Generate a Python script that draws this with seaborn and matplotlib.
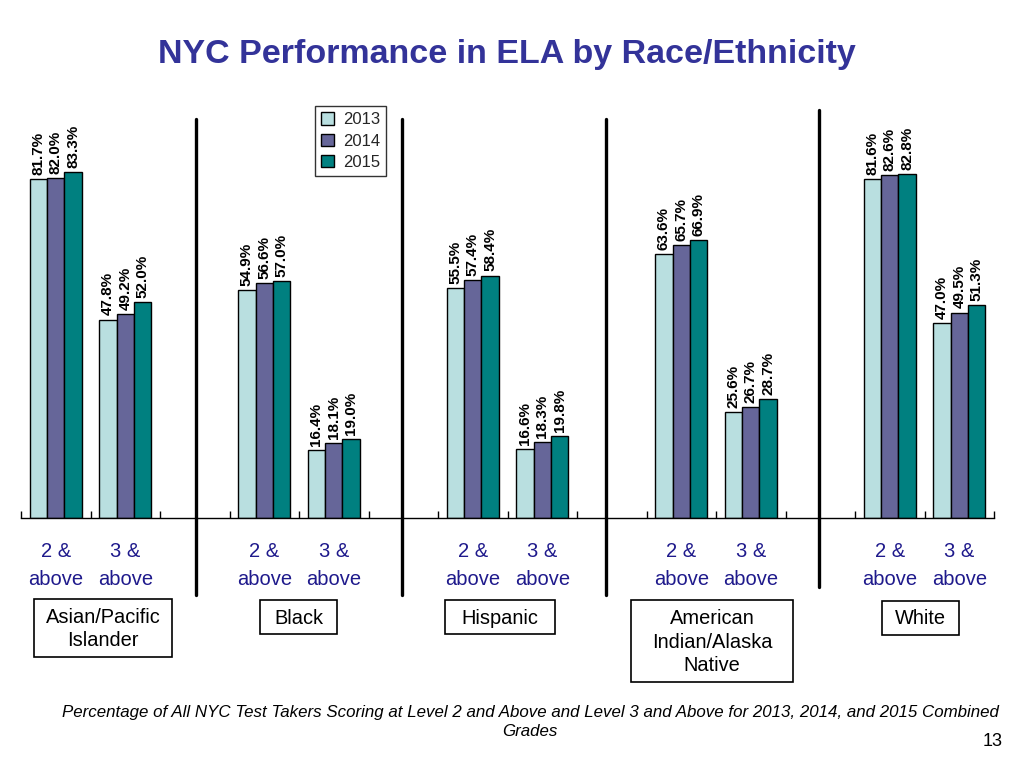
import matplotlib
matplotlib.use("Agg")
import matplotlib.pyplot as plt
from matplotlib.lines import Line2D
from matplotlib.patches import Rectangle
import seaborn as sns
import pandas as pd

# ---- data ----
races = ["Asian/Pacific\nIslander", "Black", "Hispanic", "American\nIndian/Alaska\nNative", "White"]
levels = ["2 &\nabove", "3 &\nabove"]
years = ["2013", "2014", "2015"]
vals_2013 = [81.7, 47.8, 54.9, 16.4, 55.5, 16.6, 63.6, 25.6, 81.6, 47.0]
vals_2014 = [82.0, 49.2, 56.6, 18.1, 57.4, 18.3, 65.7, 26.7, 82.6, 49.5]
vals_2015 = [83.3, 52.0, 57.0, 19.0, 58.4, 19.8, 66.9, 28.7, 82.8, 51.3]

title = "NYC Performance in ELA by Race/Ethnicity"
footnote_1 = ("Percentage of All NYC Test Takers Scoring at Level 2 and Above and Level 3 and Above "
              "for 2013, 2014, and 2015 Combined")
footnote_2 = "Grades"
page_no = "13"

colors = ["#B9DFE0", "#666699", "#008080"]

# build long table with slot keys (gap slot between race groups)
order = []
rows = []
cat_labels = []
idx = 0
for r_i, race in enumerate(races):
    for l_i, lev in enumerate(levels):
        key = f"{r_i}-{l_i}"
        order.append(key)
        cat_labels.append(lev)
        for y, series in zip(years, [vals_2013, vals_2014, vals_2015]):
            rows.append({"slot": key, "year": y, "value": series[idx]})
        idx += 1
    if r_i < len(races) - 1:
        order.append(f"gap{r_i}")
        cat_labels.append("")
df = pd.DataFrame(rows)

sns.set_theme(style="white")
plt.rcParams["font.family"] = ["Liberation Sans", "DejaVu Sans"]

W, H = 1024, 768
fig = plt.figure(figsize=(W / 100, H / 100), dpi=100)
ax = fig.add_axes([21 / W, 1 - 518 / H, 973 / W, (518 - 103) / H])

sns.barplot(data=df, x="slot", y="value", hue="year", order=order, hue_order=years,
            palette=colors, width=0.75, edgecolor="black", linewidth=1.0,
            saturation=1, ax=ax, legend=True)

ax.set_xlim(-0.5, len(order) - 0.5)
ax.set_ylim(0, 100)
ax.set_xlabel("")
ax.set_ylabel("")
ax.set_yticks([])
for s in ["top", "left", "right"]:
    ax.spines[s].set_visible(False)
ax.spines["bottom"].set_color("black")
ax.spines["bottom"].set_linewidth(1.0)

ax.set_xticks(range(len(order)))
ax.set_xticklabels(cat_labels, color="#1f1a8c", fontsize=14.5, linespacing=1.55)
ax.tick_params(axis="x", which="major", length=0, pad=17.5)
ax.set_xticks([i - 0.5 for i in range(len(order) + 1)], minor=True)
ax.tick_params(axis="x", which="minor", direction="in", length=5, width=1, color="black",
               bottom=True)

for cont in ax.containers:
    ax.bar_label(cont, fmt="%.1f%%", rotation=90, padding=3, fontsize=11,
                 fontweight="bold", color="black")

# legend
handles, labels = ax.get_legend_handles_labels()
leg = ax.legend(handles, labels, loc="upper left",
                bbox_to_anchor=(315 / W, 1 - 106 / H), bbox_transform=fig.transFigure,
                frameon=True, fancybox=False, fontsize=12, handlelength=0.75,
                handleheight=0.75, handletextpad=0.55, labelspacing=0.38,
                borderpad=0.38, borderaxespad=0)
leg.get_frame().set_edgecolor("black")
leg.get_frame().set_linewidth(1.0)

# title
fig.text(507 / W, 1 - 55 / H, title, ha="center", va="center", fontsize=24.5,
         fontweight="bold", color="#333399")

# vertical dividers
for x, y1, y2 in [(196, 119, 595), (402, 119, 595), (606, 119, 595), (819, 110, 587)]:
    fig.add_artist(Line2D([x / W, x / W], [1 - y1 / H, 1 - y2 / H], transform=fig.transFigure,
                          color="black", linewidth=2.4))

# race boxes
boxes = [(34, 599, 172, 657), (260, 600, 337, 634), (445, 600, 555, 634),
         (631, 600, 793, 682), (882, 601, 959, 635)]
for race, (x0, y0, x1, y1) in zip(races, boxes):
    fig.add_artist(Rectangle((x0 / W, 1 - y1 / H), (x1 - x0) / W, (y1 - y0) / H,
                             transform=fig.transFigure, fill=False, edgecolor="black",
                             linewidth=1.2))
    fig.text((x0 + x1) / 2 / W, 1 - (y0 + y1 + 2) / 2 / H, race, ha="center", va="center",
             fontsize=14.4, color="black", linespacing=1.28, multialignment="center")

fig.text(530 / W, 1 - 712 / H, footnote_1, ha="center", va="center", fontsize=12.2,
         style="italic", color="black")
fig.text(530 / W, 1 - 731 / H, footnote_2, ha="center", va="center", fontsize=12.2,
         style="italic", color="black")
fig.text(993 / W, 1 - 741 / H, page_no, ha="center", va="center", fontsize=13, color="black")

fig.savefig("out.png", dpi=100)
